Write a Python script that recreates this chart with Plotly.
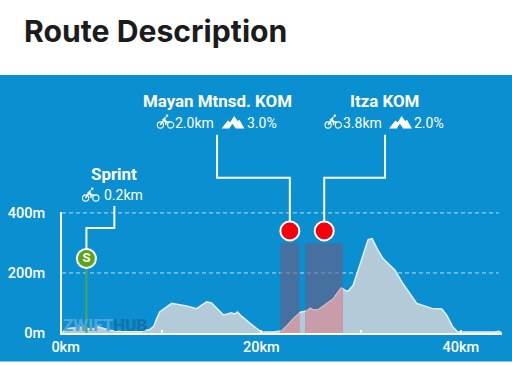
import numpy as np
import plotly.graph_objects as go

km = [0,.3,.8,1.3,1.8,2.1,2.3,2.8,3.3,3.6,4.1,4.8,5.5,6.5,8.0,8.2,8.8,9.2,9.5,9.8,10.5,11.0,11.5,12.5,13.5,14.0,14.5,15.0,15.5,16.2,17.0,17.3,17.6,18.0,18.9,19.5,20.0,21.2,22.0,22.5,23.2,23.9,24.5,24.9,25.2,25.7,26.5,27.2,28.0,28.4,28.7,29.2,29.7,30.2,30.7,31.1,31.6,32.2,33.4,34.2,34.9,35.6,36.2,37.1,38.1,38.6,39.2,39.7,40.0,42.3,43.4,43.8,44.1]
elev = [0,11,16,17,18,22,17,13,16,21,16,9,6,4,4,10,11,22,48,70,87,99,96,90,81,94,104,100,84,60,67,63,70,56,31,14,3,3,7,22,48,69,73,83,77,78,98,114,151,142,139,159,209,264,311,314,281,248,209,164,131,98,92,82,80,59,20,3,3,2,3,6,1]
kom_segments = [(21.9, 23.8), (24.4, 28.15)]
kom_top = 300
kom_marker_km = [22.85, 26.3]
kom_marker_m = [340, 340]
sprint_km = 2.45
sprint_m = 248
leader_sprint = ([2.45, 2.45, 5.25, 5.25], [248, 350, 350, 423])
leader_mayan = ([15.55, 15.55, 22.85, 22.85], [660, 517, 517, 340])
leader_itza = ([32.4, 32.4, 26.3, 26.3], [660, 517, 517, 340])
x_ticks = [0, 10, 20, 30, 40]
x_labels = ["\u00a0\u00a00km", "", "20km", "", "40km"]
y_ticks = [0, 200, 400]
y_labels = ["0m", "200m", "400m"]
grid_levels = [200, 400]
grid_end_km = 43.8

W, H = 512, 365
L, R, T, B = 62, 10, 212, 32
XMAX, YMAX = 44.13, 403
BLUE = "#0a8fd0"
FONT = "Roboto"

def dx(x): return (x - L) / (W - L - R)
def dy(y): return (H - B - y) / (H - T - B)

fig = go.Figure()
fig.add_trace(go.Scatter(x=km, y=elev, mode="lines", fill="tozeroy",
                         fillcolor="#b3cbd8", line=dict(color="#e2f0f6", width=1.5)))
for a, b in kom_segments:
    fig.add_trace(go.Scatter(x=[a, a, b, b], y=[0, kom_top, kom_top, 0], mode="lines",
                             fill="toself", fillcolor="rgba(110,92,127,0.6)", line=dict(width=0)))
    k = np.array(km); e = np.array(elev)
    m = (k > a) & (k < b)
    xs = [a] + list(k[m]) + [b]
    ys = [float(np.interp(a, k, e))] + list(e[m]) + [float(np.interp(b, k, e))]
    fig.add_trace(go.Scatter(x=xs, y=ys, mode="lines", fill="tozeroy",
                             fillcolor="#c99caa", line=dict(color="#dcc8d2", width=1)))
fig.add_trace(go.Scatter(x=[sprint_km, sprint_km], y=[0, sprint_m], mode="lines",
                         line=dict(color="#4ea35c", width=2)))
fig.add_trace(go.Scatter(x=kom_marker_km, y=kom_marker_m, mode="markers", cliponaxis=False,
                         marker=dict(size=19, color="#f5000c", line=dict(color="white", width=2))))
fig.add_trace(go.Scatter(x=[sprint_km], y=[sprint_m], mode="markers+text", text=["S"],
                         textposition="middle center", cliponaxis=False,
                         textfont=dict(family=FONT, size=13, color="white", weight=700),
                         marker=dict(size=19, color="#5aa514", line=dict(color="white", width=2))))

shapes = [dict(type="rect", xref="paper", yref="paper", x0=dx(0), x1=dx(W), y0=dy(75), y1=dy(361.5),
               fillcolor=BLUE, line=dict(width=0), layer="below")]
for level in grid_levels:
    shapes.append(dict(type="line", xref="paper", yref="paper", x0=0, x1=grid_end_km / XMAX,
                       y0=level / YMAX, y1=level / YMAX, layer="below",
                       line=dict(color="rgba(255,255,255,0.7)", width=1, dash="4px,3px")))
for xs, ys in (leader_sprint, leader_mayan, leader_itza):
    p = "M " + " L ".join(f"{a / XMAX:.5f} {b / YMAX:.5f}" for a, b in zip(xs, ys))
    shapes.append(dict(type="path", xref="paper", yref="paper", path=p,
                       line=dict(color="white", width=2), layer="below"))

def bike(x0, y0, w=16.5, c="white"):
    s = w / 16.5
    r = 3.1 * s
    yc = y0 + 10.5 * s
    for cx in (x0 + r, x0 + w - r):
        shapes.append(dict(type="circle", xref="paper", yref="paper",
                           x0=dx(cx - r), x1=dx(cx + r), y0=dy(yc - r), y1=dy(yc + r),
                           line=dict(color=c, width=1.1)))
    P = lambda a, b: f"{dx(x0 + a*s):.5f} {dy(y0 + b*s):.5f}"
    shapes.append(dict(type="path", xref="paper", yref="paper",
                       path=f"M {P(3,10.5)} L {P(7,4.5)} L {P(9,7.5)} L {P(12,7.5)} M {P(8.5,10.5)} L {P(8.5,7.8)} L {P(5.5,5.5)} L {P(8.5,2.8)}",
                       line=dict(color=c, width=1.4)))
    shapes.append(dict(type="circle", xref="paper", yref="paper",
                       x0=dx(x0 + 8.5*s), x1=dx(x0 + 11*s), y0=dy(y0), y1=dy(y0 + 2.5*s),
                       fillcolor=c, line=dict(width=0)))

def mountain(x0, y0, w=23, h=12.5, c="white"):
    P = lambda a, b: f"{dx(x0 + a*w):.5f} {dy(y0 + b*h):.5f}"
    shapes.append(dict(type="path", xref="paper", yref="paper",
                       path=f"M {P(0,1)} L {P(.28,.35)} L {P(.38,.5)} L {P(.55,0)} L {P(.7,.4)} L {P(.78,.3)} L {P(1,1)} L {P(.62,1)} L {P(.47,.62)} L {P(.34,1)} Z",
                       fillcolor=c, line=dict(width=0)))

bike(157.3, 114.5); bike(325, 114.5); bike(82.5, 187.5)
mountain(221.5, 116); mountain(389, 116)

anns = []
def text(t, x, y, size=14, weight=400, color="white", anchor="center", family=FONT):
    anns.append(dict(text=t, xref="paper", yref="paper", x=dx(x), y=dy(y), xanchor=anchor,
                     yanchor="middle", showarrow=False,
                     font=dict(family=family, size=size, color=color, weight=weight)))

text("Route Description", 22, 31, 30.2, 700, "#1c1c1c", "left", "Inter")
text("Mayan Mtnsd. KOM", 217, 101, 16.9, 700)
text("Itza KOM", 384, 101, 16.9, 700)
text("Sprint", 113.5, 174, 16.9, 700)
text("2.0km", 173, 123, 14, 400, anchor="left")
text("3.0%", 245, 123, 14, 400, anchor="left")
text("3.8km", 340.5, 123, 14, 400, anchor="left")
text("2.0%", 412, 123, 14, 400, anchor="left")
text("0.2km", 102, 195, 14, 400, anchor="left")
text('<span style="color:#4fa6da">ZWIFT</span><span style="color:#1572a8">HUB</span>',
     105, 325, 17, 800)

fig.update_layout(
    width=W, height=H, margin=dict(l=L, r=R, t=T, b=B, autoexpand=False),
    paper_bgcolor="white", plot_bgcolor="rgba(0,0,0,0)", showlegend=False,
    shapes=shapes, annotations=anns,
    xaxis=dict(range=[0, XMAX], tickvals=x_ticks, ticktext=x_labels, showgrid=False,
               zeroline=False, showline=True, linecolor="white", linewidth=2,
               ticks="inside", ticklen=3, tickcolor="white", tickwidth=2,
               tickfont=dict(family=FONT, size=14.5, color="white", weight=500), tickangle=0),
    yaxis=dict(range=[0, YMAX], tickvals=y_ticks, ticktext=y_labels, showgrid=False,
               zeroline=False, showline=True, linecolor="white", linewidth=2,
               ticks="outside", ticklen=12, tickcolor="rgba(0,0,0,0)",
               tickfont=dict(family=FONT, size=14.5, color="white", weight=500)),
)
fig.write_html("out.html", config=dict(displayModeBar=False),
               post_script="document.body.style.margin='0';")
